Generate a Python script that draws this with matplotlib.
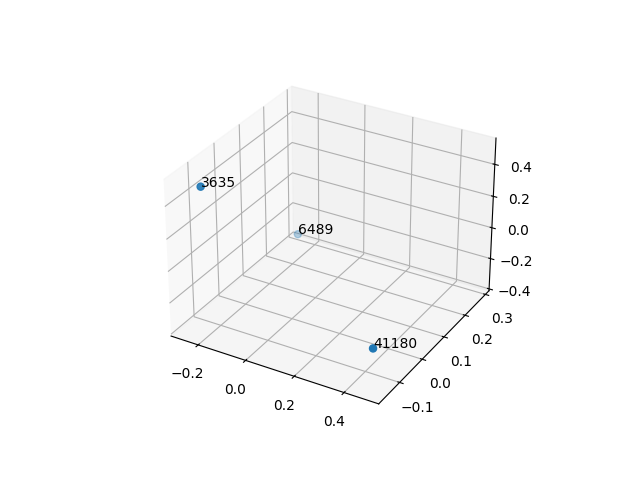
import matplotlib
matplotlib.use('Agg')
import matplotlib.pyplot as plt

labels = ['3635', '6489', '41180']
xs = [-0.220, -0.262, 0.482]
ys = [-0.14, 0.286, -0.157]
zs = [0.5, -0.35, -0.142]

fig = plt.figure(figsize=(6.4, 4.8), dpi=100)
ax = fig.add_subplot(projection='3d')
ax.scatter(xs, ys, zs, s=26)
for x, y, z, t in zip(xs, ys, zs, labels):
    ax.text(x, y, z, t)
fig.savefig('out.png', dpi=100)
